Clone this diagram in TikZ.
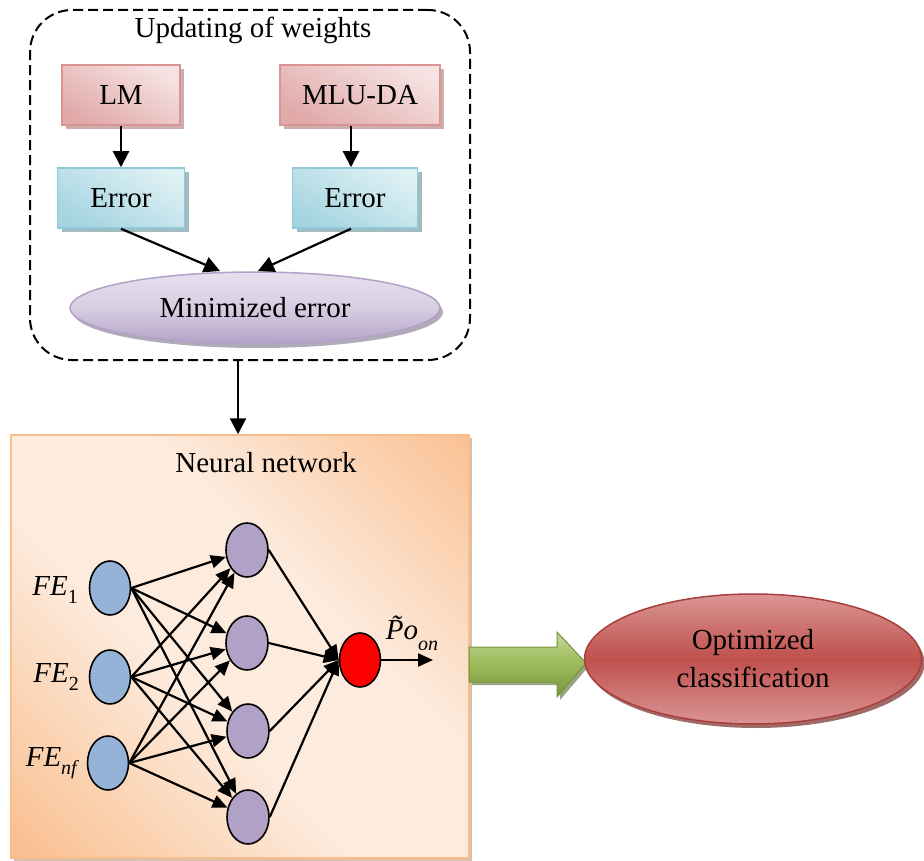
\documentclass[tikz,border=0pt]{standalone}
\usepackage{fontspec}
\setmainfont{Liberation Serif}
\usetikzlibrary{arrows.meta,shadows,shapes.geometric}
\definecolor{pinkD}{HTML}{D99594}
\definecolor{pinkL}{HTML}{F6E2E2}
\definecolor{blueD}{HTML}{8FCAD9}
\definecolor{blueL}{HTML}{DDF0F4}
\definecolor{lavD}{HTML}{B3A2C7}
\definecolor{lavL}{HTML}{E6E0EE}
\definecolor{orD}{HTML}{F9BD8C}
\definecolor{orL}{HTML}{FDEBDD}
\definecolor{inBlue}{HTML}{95B3D7}
\definecolor{hidPur}{HTML}{B2A1C7}
\definecolor{grD}{HTML}{77933C}
\definecolor{grM}{HTML}{9BBB59}
\definecolor{grL}{HTML}{C3D69B}
\definecolor{redM}{HTML}{C0504D}
\definecolor{redL}{HTML}{DA9594}
\definecolor{redB}{HTML}{A83F3C}
\pgfdeclarehorizontalshading{orangeband}{100bp}{color(0bp)=(orD); color(14bp)=(orD); color(42bp)=(orL); color(60bp)=(orL); color(88bp)=(orD); color(100bp)=(orD)}
\begin{document}
\begin{tikzpicture}[x=1pt,y=-1pt,
  font=\fontsize{29}{33}\selectfont,
  pinkbox/.style={draw=pinkD, line width=1.5pt, shading=axis, left color=pinkL, right color=pinkD!80, shading angle=-30, minimum height=60pt, inner sep=0pt,
    drop shadow={shadow xshift=4pt, shadow yshift=-4pt, fill=pinkD!80!black, opacity=0.6}},
  bluebox/.style={draw=blueD, line width=1.5pt, shading=axis, left color=blueL, right color=blueD!80, shading angle=-30, minimum height=60pt, inner sep=0pt,
    drop shadow={shadow xshift=4pt, shadow yshift=-4pt, fill=blueD!70!black, opacity=0.6}},
  arr/.style={line width=2.2pt, -{Triangle[length=16pt,width=16pt]}},
  narr/.style={line width=2.2pt, -{Triangle[length=15pt,width=13pt]}},
  neuron/.style={ellipse, draw=black, line width=1.6pt, minimum width=41pt, minimum height=54pt, inner sep=0pt},
]
\useasboundingbox (0,0) rectangle (924,861);

% dashed container
\node (upd) [draw, dash pattern=on 10pt off 5pt, line width=2pt, rounded corners=42pt,
  minimum width=440pt, minimum height=350pt] at (250,185) {};
\node (updt) at (253,30) {Updating of weights};

\node (lm) [pinkbox, minimum width=118pt] at (121,95) {LM};
\node (mlu) [pinkbox, minimum width=160pt] at (360,95) {MLU-DA};
\node (e1) [bluebox, minimum width=127pt] at (121,198) {Error};
\node (e2) [bluebox, minimum width=125pt] at (355,198) {Error};
\node (me) [ellipse, draw=lavD, line width=1.5pt, top color=lavL, bottom color=lavD, middle color=lavL!70!lavD,
  minimum width=370pt, minimum height=72pt, inner sep=0pt,
  drop shadow={shadow xshift=3pt, shadow yshift=-4pt, fill=lavD!70!black, opacity=0.6}] at (255,308) {Minimized error};

\draw[arr] (lm) -- (e1);
\draw[arr] (mlu.south -| e2.north) ++(-4,0) coordinate (mluS) -- (mluS |- e2.north);
\coordinate (m1) at (220,271);
\coordinate (m2) at (258,271);
\draw[arr] (e1.south) -- (m1);
\draw[arr] ([xshift=-4pt]e2.south) -- (m2);

% neural network box
\node (nn) [draw=orD, line width=1.5pt, shading=orangeband, shading angle=45,
  minimum width=458pt, minimum height=423pt, inner sep=0pt,
  drop shadow={shadow xshift=3pt, shadow yshift=-3pt, fill=orD!70!black, opacity=0.5}] at (240,646.5) {};
\node (nnt) at (266,463) {Neural network};

\draw[arr] (upd.south -| nn.north) ++(-2,0) coordinate (uS) -- (uS |- nn.north);

% neurons
\node (i1) [neuron, fill=inBlue] at (110,588) {};
\node (i2) [neuron, fill=inBlue] at (110,677) {};
\node (i3) [neuron, fill=inBlue] at (108,763) {};
\node (h1) [neuron, fill=hidPur, minimum width=42pt] at (247,550) {};
\node (h2) [neuron, fill=hidPur, minimum width=42pt] at (247,643) {};
\node (h3) [neuron, fill=hidPur, minimum width=42pt] at (248,731) {};
\node (h4) [neuron, fill=hidPur, minimum width=42pt] at (248,817) {};
\node (o) [neuron, fill=red] at (360,660) {};

\node (l1) [anchor=east, inner sep=0pt] at (78,590) {\itshape FE\raisebox{-0.3em}{\fontsize{20}{22}\selectfont\upshape 1}};
\node (l2) [anchor=east, inner sep=0pt] at (79,677) {\itshape FE\raisebox{-0.3em}{\fontsize{20}{22}\selectfont\upshape 2}};
\node (l3) [anchor=east, inner sep=0pt] at (77,763) {\itshape FE\raisebox{-0.3em}{\fontsize{20}{22}\selectfont nf}};

\foreach \i in {i1,i2,i3}{
  \foreach \h in {h1,h2,h3,h4}{
    \draw[narr] (\i.east) -- (\h);
  }
}
\foreach \h in {h1,h2,h3,h4}{
  \draw[narr] (\h.east) -- (o.west);
}
\coordinate (oend) at (433,660);
\draw[narr] (o.east) -- (oend);
\node (pl) [inner sep=0pt] at (412,633) {\itshape \~{P}o\raisebox{-0.35em}{\fontsize{20}{22}\selectfont on}};

% green arrow
\path[draw=grD, line width=1pt, top color=grL, bottom color=grD, middle color=grM,
  drop shadow={shadow xshift=3pt, shadow yshift=-3pt, fill=grD!70!black, opacity=0.6}]
  (469,647) -- (557,647) -- (557,632) -- (586,663) -- (557,697) -- (557,682) -- (469,682) -- cycle;

\node (oc) [ellipse, draw=redB, line width=1.5pt, top color=redL, bottom color=redL, middle color=redM,
  minimum width=337pt, minimum height=130pt, inner sep=0pt, align=center,
  drop shadow={shadow xshift=3pt, shadow yshift=-4pt, fill=redB!70!black, opacity=0.7}] at (753,659) {Optimized\\[5pt]classification};
\end{tikzpicture}
\end{document}
